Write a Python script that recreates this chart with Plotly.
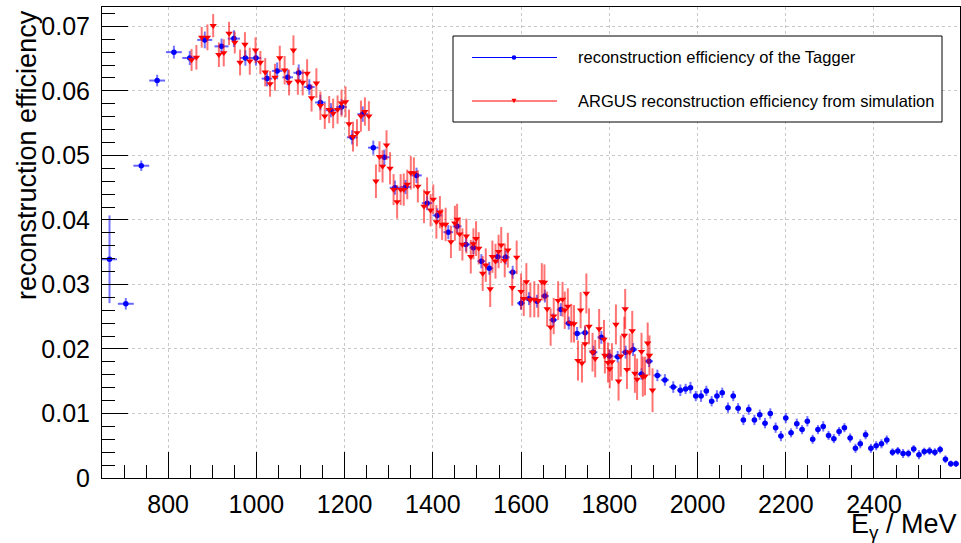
import plotly.graph_objects as go

# Tagger: photon energy bin centres (MeV), efficiency, errors
blue_e = [667, 704, 739, 775, 813, 849, 883, 921, 949, 975,
          999, 1024, 1047, 1071, 1096, 1120, 1145, 1169, 1193, 1217,
          1241, 1265, 1290, 1314, 1338, 1363, 1387, 1410, 1435, 1455,
          1475, 1492, 1510, 1528, 1547, 1565, 1581, 1600, 1618, 1636,
          1654, 1673, 1690, 1708, 1727, 1745, 1764, 1782, 1800, 1819,
          1837, 1854, 1873, 1890, 1909, 1926, 1945, 1961, 1973, 1984,
          1996, 2008, 2020, 2032, 2044, 2056, 2069, 2081, 2092, 2104,
          2116, 2129, 2141, 2153, 2165, 2177, 2189, 2200, 2212, 2225,
          2237, 2249, 2261, 2273, 2285, 2297, 2309, 2321, 2333, 2346,
          2358, 2369, 2381, 2393, 2405, 2417, 2429, 2442, 2454, 2466,
          2478, 2490, 2502, 2514, 2526, 2538, 2550, 2562, 2574, 2586]
blue_eff = [0.0339, 0.0270, 0.0484, 0.0616, 0.0660, 0.0651, 0.0679, 0.0669, 0.0681, 0.0651,
            0.0651, 0.0619, 0.0631, 0.0621, 0.0628, 0.0606, 0.0582, 0.0570, 0.0575, 0.0528,
            0.0564, 0.0512, 0.0497, 0.0450, 0.0451, 0.0469, 0.0426, 0.0407, 0.0381, 0.0390,
            0.0362, 0.0357, 0.0336, 0.0325, 0.0343, 0.0342, 0.0319, 0.0271, 0.0278, 0.0274,
            0.0282, 0.0245, 0.0261, 0.0240, 0.0224, 0.0225, 0.0195, 0.0218, 0.0189, 0.0188,
            0.0195, 0.0199, 0.0161, 0.0181, 0.0159, 0.0152, 0.0141, 0.0136, 0.0138, 0.0140,
            0.0127, 0.0127, 0.0135, 0.0119, 0.0127, 0.0132, 0.0109, 0.0127, 0.0108, 0.0090,
            0.0106, 0.0090, 0.0098, 0.0085, 0.0100, 0.0078, 0.0065, 0.0093, 0.0070, 0.0084,
            0.0075, 0.0088, 0.0060, 0.0075, 0.0080, 0.0066, 0.0061, 0.0072, 0.0078, 0.0062,
            0.0046, 0.0053, 0.0067, 0.0046, 0.0050, 0.0053, 0.0059, 0.0040, 0.0042, 0.0038,
            0.0038, 0.0045, 0.0036, 0.0041, 0.0042, 0.0040, 0.0044, 0.0029, 0.0022, 0.0022]
blue_err = [0.0068, 0.0009, 0.0008, 0.0009, 0.0010, 0.0011, 0.0013, 0.0012, 0.0013, 0.0012,
            0.0012, 0.0012, 0.0013, 0.0012, 0.0013, 0.0012, 0.0012, 0.0011, 0.0012, 0.0011,
            0.0012, 0.0011, 0.0012, 0.0011, 0.0011, 0.0012, 0.0011, 0.0011, 0.0011, 0.0010,
            0.0011, 0.0010, 0.0011, 0.0010, 0.0010, 0.0011, 0.0010, 0.0010, 0.0010, 0.0010,
            0.0010, 0.0010, 0.0010, 0.0010, 0.0010, 0.0010, 0.0010, 0.0010, 0.0010, 0.0009,
            0.0010, 0.0010, 0.0009, 0.0009, 0.0009, 0.0009, 0.0009, 0.0009, 0.0008, 0.0009,
            0.0008, 0.0009, 0.0008, 0.0008, 0.0009, 0.0008, 0.0008, 0.0008, 0.0008, 0.0008,
            0.0008, 0.0008, 0.0008, 0.0008, 0.0008, 0.0008, 0.0008, 0.0008, 0.0007, 0.0008,
            0.0007, 0.0008, 0.0007, 0.0007, 0.0008, 0.0007, 0.0007, 0.0007, 0.0007, 0.0007,
            0.0007, 0.0007, 0.0007, 0.0007, 0.0007, 0.0007, 0.0007, 0.0006, 0.0006, 0.0007,
            0.0006, 0.0006, 0.0007, 0.0006, 0.0006, 0.0006, 0.0006, 0.0006, 0.0005, 0.0005]
blue_halfwidth = [17, 18, 18, 18, 18, 17, 17, 16, 14, 12,
                  12, 12, 12, 12, 12, 12, 12, 12, 12, 12,
                  12, 12, 12, 12, 12, 12, 12, 11, 11, 10,
                  10, 9, 9, 9, 9, 9, 9, 9, 9, 9,
                  9, 9, 9, 9, 9, 9, 9, 9, 9, 9,
                  9, 9, 9, 9, 9, 9, 9, 7, 6, 6,
                  6, 6, 6, 6, 6, 6, 6, 6, 6, 6,
                  6, 6, 6, 6, 6, 6, 6, 6, 6, 6,
                  6, 6, 6, 6, 6, 6, 6, 6, 6, 6,
                  6, 6, 6, 6, 6, 6, 6, 6, 6, 6,
                  6, 6, 6, 6, 6, 6, 6, 6, 6, 6]

# ARGUS simulation: photon energy (MeV), efficiency, errors
red_e = [853, 864, 876, 889, 902, 915, 926, 938, 951, 963,
         974, 985, 998, 1009, 1020, 1031, 1042, 1053, 1064, 1074,
         1084, 1094, 1105, 1115, 1125, 1136, 1145, 1155, 1165, 1174,
         1184, 1193, 1202, 1210, 1219, 1228, 1237, 1246, 1255, 1271,
         1279, 1286, 1295, 1303, 1311, 1319, 1327, 1334, 1342, 1350,
         1357, 1366, 1380, 1387, 1395, 1401, 1408, 1416, 1421, 1429,
         1441, 1450, 1455, 1461, 1467, 1476, 1486, 1492, 1498, 1504,
         1513, 1520, 1530, 1535, 1542, 1549, 1555, 1563, 1570, 1580,
         1590, 1600, 1606, 1612, 1621, 1630, 1639, 1647, 1653, 1659,
         1667, 1674, 1684, 1694, 1699, 1706, 1714, 1720, 1729, 1735,
         1738, 1745, 1748, 1754, 1762, 1768, 1777, 1788, 1790, 1797,
         1801, 1806, 1815, 1821, 1826, 1834, 1836, 1840, 1846, 1852,
         1858, 1863, 1873, 1876, 1881, 1887, 1891, 1898]
red_eff = [0.0648, 0.0652, 0.0683, 0.0683, 0.0701, 0.0656, 0.0659, 0.0689, 0.0675, 0.0644,
           0.0672, 0.0646, 0.0663, 0.0644, 0.0629, 0.0611, 0.0621, 0.0651, 0.0632, 0.0613,
           0.0663, 0.0615, 0.0613, 0.0627, 0.0589, 0.0612, 0.0577, 0.0561, 0.0571, 0.0565,
           0.0571, 0.0581, 0.0583, 0.0549, 0.0529, 0.0535, 0.0561, 0.0568, 0.0561, 0.0460,
           0.0498, 0.0483, 0.0516, 0.0480, 0.0447, 0.0428, 0.0447, 0.0447, 0.0455, 0.0473,
           0.0473, 0.0452, 0.0421, 0.0442, 0.0415, 0.0432, 0.0397, 0.0412, 0.0393, 0.0393,
           0.0366, 0.0395, 0.0401, 0.0378, 0.0362, 0.0375, 0.0343, 0.0363, 0.0371, 0.0356,
           0.0317, 0.0330, 0.0293, 0.0343, 0.0336, 0.0351, 0.0361, 0.0337, 0.0353, 0.0295,
           0.0342, 0.0289, 0.0278, 0.0304, 0.0276, 0.0277, 0.0275, 0.0304, 0.0303, 0.0262,
           0.0234, 0.0251, 0.0275, 0.0277, 0.0260, 0.0266, 0.0240, 0.0239, 0.0182, 0.0260,
           0.0178, 0.0208, 0.0286, 0.0235, 0.0195, 0.0185, 0.0231, 0.0215, 0.0190, 0.0179,
           0.0169, 0.0180, 0.0238, 0.0150, 0.0189, 0.0221, 0.0262, 0.0168, 0.0195, 0.0228,
           0.0162, 0.0153, 0.0196, 0.0157, 0.0158, 0.0209, 0.0190, 0.0136]
red_err = [0.0017, 0.0019, 0.0016, 0.0020, 0.0018, 0.0019, 0.0021, 0.0018, 0.0017, 0.0020,
           0.0019, 0.0021, 0.0020, 0.0018, 0.0022, 0.0020, 0.0021, 0.0019, 0.0022, 0.0020,
           0.0023, 0.0021, 0.0020, 0.0022, 0.0021, 0.0023, 0.0022, 0.0020, 0.0021, 0.0023,
           0.0022, 0.0021, 0.0024, 0.0022, 0.0023, 0.0021, 0.0024, 0.0022, 0.0023, 0.0026,
           0.0024, 0.0025, 0.0023, 0.0025, 0.0024, 0.0026, 0.0024, 0.0025, 0.0023, 0.0026,
           0.0024, 0.0025, 0.0026, 0.0024, 0.0025, 0.0023, 0.0026, 0.0025, 0.0024, 0.0026,
           0.0025, 0.0027, 0.0024, 0.0026, 0.0025, 0.0027, 0.0026, 0.0024, 0.0027, 0.0025,
           0.0027, 0.0026, 0.0028, 0.0025, 0.0027, 0.0026, 0.0028, 0.0026, 0.0027, 0.0028,
           0.0026, 0.0028, 0.0027, 0.0029, 0.0027, 0.0028, 0.0026, 0.0029, 0.0028, 0.0027,
           0.0029, 0.0028, 0.0030, 0.0027, 0.0029, 0.0028, 0.0030, 0.0029, 0.0031, 0.0028,
           0.0030, 0.0029, 0.0031, 0.0028, 0.0030, 0.0029, 0.0031, 0.0030, 0.0028, 0.0031,
           0.0030, 0.0029, 0.0031, 0.0030, 0.0032, 0.0029, 0.0031, 0.0030, 0.0029, 0.0031,
           0.0030, 0.0032, 0.0029, 0.0031, 0.0030, 0.0032, 0.0031, 0.0034]

legend_labels = ["reconstruction efficiency of the Tagger",
                 "ARGUS reconstruction efficiency from simulation"]

W, H = 961, 543
ML, MR, MT, MB = 102, 1, 7, 65
TICK_FONT = "Liberation Sans, Arial, sans-serif"
TEXT_FONT = "Liberation Sans, Arial, sans-serif"


def paper_x(px):
    return (px - ML) / (W - ML - MR)


def paper_y(py):
    return (H - MB - py) / (H - MT - MB)


fig = go.Figure()
fig.add_trace(go.Scatter(
    x=blue_e, y=blue_eff, mode="markers", name=legend_labels[0], showlegend=False,
    marker=dict(symbol="circle", size=5.5, color="#0000ff"),
    error_x=dict(type="data", array=blue_halfwidth, color="rgba(0,0,255,0.6)",
                 thickness=2, width=0),
    error_y=dict(type="data", array=blue_err, color="rgba(0,0,255,0.55)",
                 thickness=2, width=0),
))
fig.add_trace(go.Scatter(
    x=red_e, y=red_eff, mode="markers", name=legend_labels[1], showlegend=False,
    marker=dict(symbol="triangle-down", size=6.5, color="#ff0000"),
    error_y=dict(type="data", array=red_err, color="rgba(255,0,0,0.55)",
                 thickness=2, width=0),
))

axis_common = dict(
    ticks="inside", ticklen=26, tickwidth=1, tickcolor="black",
    showgrid=True, gridcolor="#c8c8c8", griddash="3px,3px", gridwidth=1,
    showline=True, linecolor="black", linewidth=1, mirror=True,
    zeroline=False,
    tickfont=dict(family=TICK_FONT, size=25, color="black"),
)
fig.update_xaxes(range=[650, 2595], tick0=0, dtick=200, ticklabelstandoff=4,
                 minor=dict(dtick=50, ticks="inside", ticklen=13, tickcolor="black",
                            showgrid=False),
                 **axis_common)
fig.update_yaxes(range=[0, 0.073], tick0=0, dtick=0.01, ticklabelstandoff=6,
                 minor=dict(dtick=0.002, ticks="inside", ticklen=13, tickcolor="black",
                            showgrid=False),
                 **axis_common)

# legend box drawn by hand so the sample lines match the long ROOT style
shapes = [
    dict(type="rect", xref="paper", yref="paper", layer="above",
         x0=paper_x(453), x1=paper_x(942), y0=paper_y(122), y1=paper_y(36),
         line=dict(color="black", width=1), fillcolor="white"),
    dict(type="line", xref="paper", yref="paper", layer="above",
         x0=paper_x(472), x1=paper_x(557), y0=paper_y(57.5), y1=paper_y(57.5),
         line=dict(color="#0000ff", width=1)),
    dict(type="circle", xref="paper", yref="paper", layer="above",
         x0=paper_x(511.7), x1=paper_x(516.3), y0=paper_y(59.8), y1=paper_y(55.2),
         line=dict(color="#0000ff", width=0), fillcolor="#0000ff"),
    dict(type="line", xref="paper", yref="paper", layer="above",
         x0=paper_x(472), x1=paper_x(557), y0=paper_y(101), y1=paper_y(101),
         line=dict(color="#ff0000", width=1)),
    dict(type="path", xref="paper", yref="paper", layer="above",
         path="M {:.5f},{:.5f} L {:.5f},{:.5f} L {:.5f},{:.5f} Z".format(
             paper_x(511.5), paper_y(98.8), paper_x(516.5), paper_y(98.8),
             paper_x(514), paper_y(103.2)),
         line=dict(color="#ff0000", width=0), fillcolor="#ff0000"),
]

annotations = [
    dict(text=legend_labels[0], xref="paper", yref="paper", showarrow=False,
         x=paper_x(576), y=paper_y(57.5), xanchor="left", yanchor="middle",
         font=dict(family=TEXT_FONT, size=16.5, color="black")),
    dict(text=legend_labels[1], xref="paper", yref="paper", showarrow=False,
         x=paper_x(576), y=paper_y(101), xanchor="left", yanchor="middle",
         font=dict(family=TEXT_FONT, size=16.5, color="black")),
    dict(text="reconstruction efficiency", xref="paper", yref="paper", showarrow=False,
         textangle=-90, x=paper_x(27), y=paper_y(8), xanchor="center", yanchor="top",
         font=dict(family=TEXT_FONT, size=27, color="black")),
    dict(text="E<sub>γ</sub> / MeV", xref="paper", yref="paper", showarrow=False,
         x=paper_x(959), y=paper_y(507), xanchor="right", yanchor="top",
         font=dict(family=TEXT_FONT, size=27, color="black")),
]

fig.update_layout(
    width=W, height=H,
    margin=dict(l=ML, r=MR, t=MT, b=MB, pad=0),
    paper_bgcolor="white", plot_bgcolor="white",
    showlegend=False,
    shapes=shapes, annotations=annotations,
)

fig.write_html("out.html")
